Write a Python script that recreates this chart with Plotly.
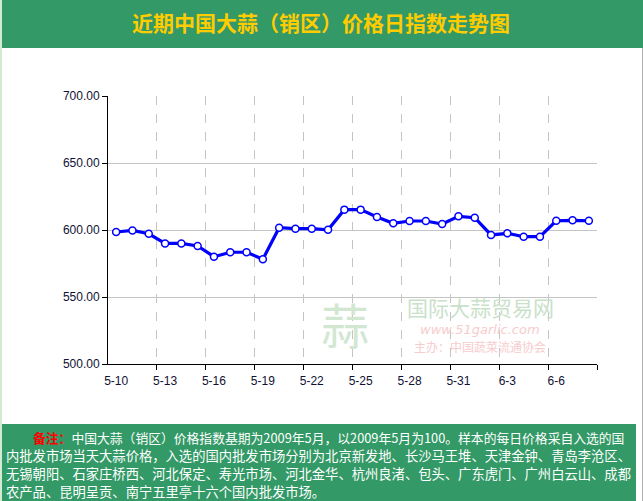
import plotly.graph_objects as go

dates = ["5-10", "5-11", "5-12", "5-13", "5-14", "5-15", "5-16", "5-17", "5-18", "5-19",
         "5-20", "5-21", "5-22", "5-23", "5-24", "5-25", "5-26", "5-27", "5-28", "5-29",
         "5-30", "5-31", "6-1", "6-2", "6-3", "6-4", "6-5", "6-6", "6-7", "6-8"]
values = [598.5, 599.7, 597.2, 590.0, 590.0, 588.1, 580.1, 583.4, 583.4, 578.2,
          601.7, 601.0, 601.0, 600.2, 615.2, 615.2, 609.7, 605.0, 606.7, 606.7,
          604.5, 610.2, 609.2, 596.3, 597.5, 595.0, 595.0, 606.9, 607.2, 606.9]
y_ticks = [500, 550, 600, 650, 700]
title_text = "近期中国大蒜（销区）价格日指数走势图"
note_label = "备注："
note_lines = [
    "中国大蒜（销区）价格指数基期为2009年5月，以2009年5月为100。样本的每日价格采自入选的国",
    "内批发市场当天大蒜价格，入选的国内批发市场分别为北京新发地、长沙马王堆、天津金钟、青岛李沧区、",
    "无锡朝阳、石家庄桥西、河北保定、寿光市场、河北金华、杭州良渚、包头、广东虎门、广州白云山、成都",
    "农产品、昆明呈贡、南宁五里亭十六个国内批发市场。",
]
wm_name = "国际大蒜贸易网"
wm_url = "www.51garlic.com"
wm_host = "主办：中国蔬菜流通协会"

W, H = 643, 501
L, R, T, B = 108, 597, 96, 364
PW, PH = R - L, B - T


def px(x):
    return (x - L) / PW


def py(y):
    return 1 - (y - T) / PH


idx = list(range(len(dates)))
label_idx = idx[::3]
boundary = [i + 0.5 for i in idx[2::3]]

GREEN = "#339966"
CJK = "Noto Sans CJK SC"

fig = go.Figure()
fig.add_trace(go.Scatter(
    x=idx, y=values, mode="lines+markers",
    line=dict(color="#0000FF", width=3.2),
    marker=dict(size=7, color="white", line=dict(color="#0000FF", width=1.5)),
    hoverinfo="skip", showlegend=False,
))

shapes = [
    dict(type="rect", xref="paper", yref="paper", x0=px(0), x1=px(2), y0=py(0), y1=py(H),
         fillcolor="#d3ebd3", line=dict(width=0), layer="below"),
    dict(type="rect", xref="paper", yref="paper", x0=px(2), x1=px(W), y0=py(0), y1=py(48),
         fillcolor=GREEN, line=dict(width=0), layer="below"),
    dict(type="rect", xref="paper", yref="paper", x0=px(2), x1=px(636), y0=py(424), y1=py(H),
         fillcolor=GREEN, line=dict(width=0), layer="below"),
    dict(type="line", xref="paper", yref="paper", x0=px(642.5), x1=px(642.5), y0=py(48), y1=py(H),
         line=dict(color="#b0b0b0", width=1), layer="below"),
]

annotations = [
    dict(text="<b>" + title_text + "</b>", xref="paper", yref="paper", x=px(321), y=py(22),
         xanchor="center", yanchor="middle", showarrow=False,
         font=dict(family=CJK, size=21, color="#FFCC00")),
    # watermark
    dict(text="蒜", xref="paper", yref="paper", x=px(345), y=py(323), xanchor="center", yanchor="middle",
         showarrow=False, font=dict(family=CJK, size=48, color="#d2e7d2")),
    dict(text=wm_name, xref="paper", yref="paper", x=px(480), y=py(307), xanchor="center",
         yanchor="middle", showarrow=False, borderpad=0,
         font=dict(family=CJK, size=21, color="#c9e1c9")),
    dict(text="<i>" + wm_url + "</i>", xref="paper", yref="paper", x=px(480), y=py(329), xanchor="center",
         yanchor="middle", showarrow=False, borderpad=0,
         font=dict(family="DejaVu Sans", size=13, color="#f6cccc")),
    dict(text=wm_host, xref="paper", yref="paper", x=px(480), y=py(346), xanchor="center",
         yanchor="middle", showarrow=False, borderpad=0,
         font=dict(family=CJK, size=12, color="#f6cccc")),
]

line_y = [437, 455, 473, 491]
for i, txt in enumerate(note_lines):
    if i == 0:
        t = "<b><span style='color:#FF0000'>" + note_label + "</span></b>" + txt
        x0 = 31
        fs = 12.8
    else:
        t = txt
        x0 = 4
        fs = 13.3
    annotations.append(dict(text=t, xref="paper", yref="paper", x=px(x0), y=py(line_y[i]),
                            xanchor="left", yanchor="middle", showarrow=False,
                            font=dict(family=CJK, size=fs, color="white")))

fig.update_layout(
    width=W, height=H,
    margin=dict(l=L, r=W - R, t=T, b=H - B, pad=0),
    paper_bgcolor="white", plot_bgcolor="white",
    shapes=shapes, annotations=annotations,
    xaxis=dict(
        range=[-0.5, len(dates) - 0.5], tickmode="array", tickvals=label_idx,
        ticktext=[dates[i] for i in label_idx],
        ticks="outside", ticklen=6, tickcolor="rgba(0,0,0,0)",
        showgrid=False, zeroline=False, showline=True, linecolor="black", linewidth=1,
        tickfont=dict(family="Liberation Sans", size=12, color="#111133"),
        minor=dict(tickmode="array", tickvals=boundary, ticks="outside", ticklen=5,
                   tickcolor="black", showgrid=True, gridcolor="#c4c4c4", griddash="dash", gridwidth=1),
    ),
    yaxis=dict(
        range=[500, 700], tickmode="array", tickvals=y_ticks,
        ticktext=[f"{v:.2f}" for v in y_ticks],
        ticks="outside", ticklen=5, tickcolor="black",
        showgrid=True, gridcolor="#c4c4c4", gridwidth=1, zeroline=False,
        showline=True, linecolor="black", linewidth=1,
        tickfont=dict(family="Liberation Sans", size=12, color="#111133"),
    ),
)

fig.write_html("out.html")
